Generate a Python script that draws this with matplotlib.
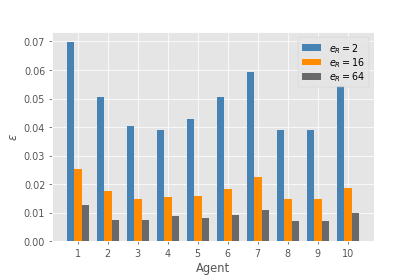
import matplotlib
matplotlib.use('Agg')
import matplotlib.pyplot as plt
import numpy as np

plt.style.use('ggplot')

# данные: ошибка для каждого агента
agents = [1, 2, 3, 4, 5, 6, 7, 8, 9, 10]
eps_r2 = [0.0697, 0.0507, 0.0404, 0.0391, 0.0427, 0.0505, 0.0592, 0.0389, 0.0389, 0.0543]
eps_r16 = [0.0253, 0.0177, 0.0147, 0.0156, 0.0157, 0.0184, 0.0225, 0.0147, 0.0146, 0.0185]
eps_r64 = [0.0125, 0.0073, 0.0073, 0.0089, 0.0080, 0.0093, 0.0108, 0.0071, 0.0071, 0.0097]

labels = ['$e_R = 2$', '$e_R = 16$', '$e_R = 64$']
colors = ['steelblue', 'darkorange', 'dimgray']

x = np.array(agents)
w = 0.25

fig, ax = plt.subplots(figsize=(6, 4), dpi=69.2)
fig.subplots_adjust(left=0.125, right=0.9, top=0.88, bottom=0.126)

ax.bar(x - w, eps_r2, w, color=colors[0], label=labels[0])
ax.bar(x, eps_r16, w, color=colors[1], label=labels[1])
ax.bar(x + w, eps_r64, w, color=colors[2], label=labels[2])

ax.set_xticks(x)
ax.set_xlabel('Agent')
ax.set_ylabel(r'$\epsilon$')
ax.legend(loc='upper right', labelspacing=0.05)

fig.savefig('out.png')
